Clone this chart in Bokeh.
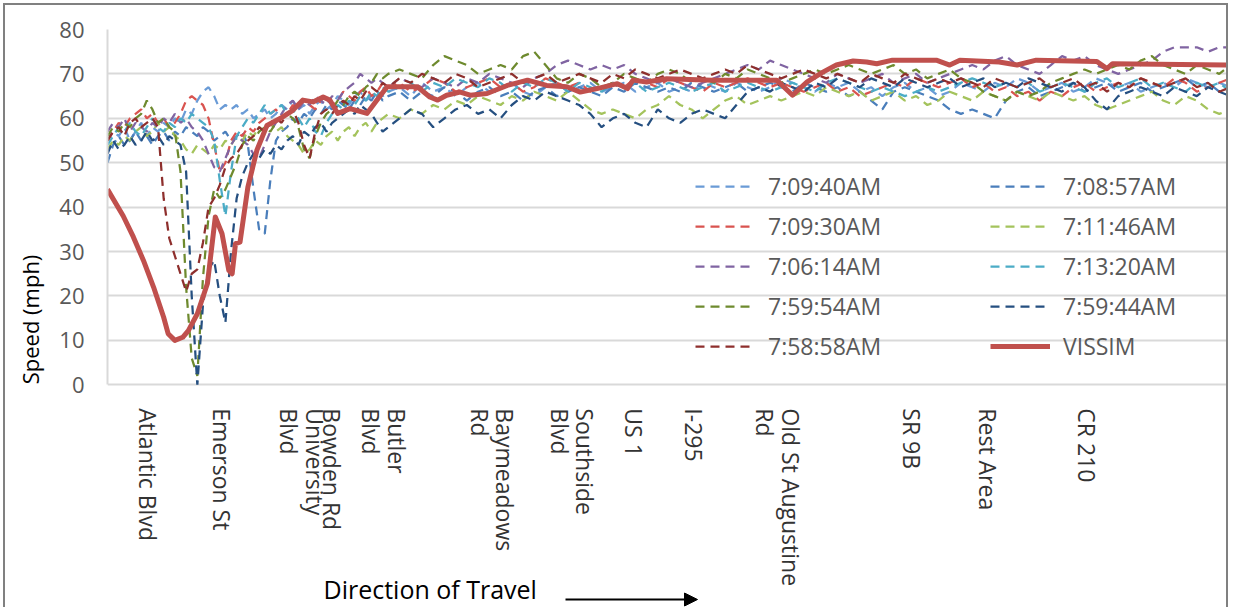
import math
from bokeh.plotting import figure
from bokeh.models import (Range1d, FixedTicker, Legend, LegendItem, Label, Arrow, NormalHead)
from bokeh.core.properties import value
from bokeh.embed import file_html
from bokeh.resources import INLINE

FONT = "Open Sans"

# ---------------- data ----------------
# relative position along the corridor (0 = start of plotted section, 100 = end)
pos = [0, 0.5, 1, 1.5, 2, 2.5, 3, 3.5, 4, 4.5,
       5, 5.5, 6, 6.5, 7, 7.5, 8, 8.5, 9, 9.5,
       10, 10.5, 11, 11.5, 12, 12.5, 13, 13.5, 14, 14.5,
       15, 15.5, 16, 16.5, 17, 17.5, 18, 18.5, 19, 19.5,
       20, 20.5, 21, 21.5, 22, 22.5, 23, 23.5, 24, 24.5,
       25, 26, 27, 28, 29, 30, 31, 32, 33, 34,
       35, 36, 37, 38, 39, 40, 41, 42, 43, 44,
       45, 46, 47, 48, 49, 50, 51, 52, 53, 54,
       55, 56, 57, 58, 59, 60, 61, 62, 63, 64,
       65, 66, 67, 68, 69, 70, 71, 72, 73, 74,
       75, 76, 77, 78, 79, 80, 81, 82, 83, 84,
       85, 86, 87, 88, 89, 90, 91, 92, 93, 94,
       95, 96, 97, 98, 99, 100]

s_0940 = [55, 57, 56, 58, 55, 57, 59, 56, 58, 57,
          59, 58, 60, 59, 62, 61, 64, 66, 67, 65,
          62, 63, 62, 63, 61, 62, 60, 61, 62, 60,
          61, 63, 62, 64, 62, 63, 61, 63, 64, 62,
          63, 65, 64, 63, 65, 66, 64, 65, 66, 65,
          66, 67, 65, 68, 66, 67, 65, 67, 68, 66,
          67, 68, 66, 65, 67, 68, 66, 67, 68, 66,
          67, 68, 66, 67, 68, 66, 67, 66, 68, 67,
          66, 68, 67, 66, 67, 69, 68, 67, 66, 68,
          67, 68, 66, 67, 65, 67, 68, 66, 67, 65,
          66, 68, 67, 66, 68, 67, 69, 68, 66, 67,
          68, 66, 67, 69, 68, 67, 68, 66, 67, 68,
          67, 69, 68, 67, 68, 67]

s_0857 = [50, 54, 56, 54, 55, 57, 55, 56, 54, 56,
          57, 55, 57, 56, 58, 57, 56, 58, 57, 55,
          56, 57, 55, 56, 57, 54, 44, 35, 34, 46,
          55, 57, 58, 60, 59, 61, 60, 62, 61, 63,
          62, 64, 63, 62, 64, 63, 65, 64, 66, 64,
          65, 66, 64, 66, 65, 67, 66, 64, 66, 67,
          65, 66, 64, 66, 67, 65, 66, 67, 66, 65,
          67, 66, 68, 67, 66, 67, 66, 68, 67, 66,
          67, 68, 66, 67, 68, 67, 66, 68, 67, 66,
          67, 65, 66, 64, 62, 66, 67, 66, 65, 64,
          62, 61, 62, 61, 60, 64, 66, 67, 65, 66,
          67, 68, 66, 67, 68, 66, 67, 68, 66, 67,
          68, 69, 67, 68, 66, 67]

s_0930 = [55, 57, 59, 58, 60, 61, 62, 60, 61, 59,
          60, 58, 59, 61, 64, 65, 64, 63, 60, 54,
          48, 50, 55, 57, 56, 58, 57, 59, 60, 61,
          62, 60, 61, 63, 62, 64, 63, 62, 64, 65,
          63, 64, 66, 65, 64, 66, 67, 65, 66, 68,
          67, 68, 66, 67, 69, 68, 66, 67, 68, 69,
          67, 68, 66, 67, 69, 68, 67, 68, 66, 67,
          68, 67, 69, 68, 67, 69, 68, 67, 66, 68,
          67, 68, 69, 68, 67, 68, 67, 66, 67, 68,
          66, 67, 65, 66, 67, 68, 67, 69, 68, 67,
          68, 69, 67, 68, 66, 67, 65, 66, 64, 66,
          65, 67, 68, 66, 67, 68, 67, 69, 68, 67,
          69, 68, 66, 67, 68, 69]

s_1146 = [53, 55, 54, 56, 55, 57, 58, 56, 57, 59,
          57, 58, 56, 55, 53, 52, 54, 53, 52, 54,
          53, 55, 54, 56, 55, 57, 56, 58, 57, 59,
          57, 58, 56, 55, 54, 52, 53, 55, 54, 56,
          57, 55, 57, 58, 56, 58, 59, 57, 59, 60,
          61, 60, 62, 61, 63, 62, 64, 63, 65, 64,
          63, 65, 64, 66, 65, 64, 66, 64, 62, 61,
          62, 61, 60, 62, 63, 65, 63, 62, 60, 62,
          64, 65, 63, 64, 65, 64, 65, 66, 65, 67,
          66, 65, 66, 64, 65, 66, 64, 65, 63, 64,
          66, 65, 64, 66, 65, 64, 66, 65, 64, 66,
          65, 64, 65, 63, 62, 63, 64, 65, 66, 64,
          63, 65, 64, 62, 61, 62]

s_0614 = [57, 59, 58, 60, 57, 59, 58, 57, 59, 58,
          60, 59, 61, 59, 60, 58, 57, 55, 52, 49,
          48, 51, 54, 56, 55, 54, 52, 51, 54, 57,
          59, 61, 63, 64, 62, 64, 63, 65, 64, 63,
          65, 64, 66, 67, 68, 70, 69, 68, 69, 68,
          67, 69, 68, 67, 69, 68, 67, 69, 68, 70,
          69, 68, 67, 69, 70, 72, 73, 72, 71, 72,
          71, 72, 70, 69, 68, 69, 68, 67, 68, 69,
          70, 71, 72, 71, 73, 72, 71, 70, 69, 68,
          70, 69, 68, 69, 70, 68, 69, 70, 68, 69,
          70, 71, 72, 71, 73, 74, 72, 71, 70, 72,
          74, 73, 74, 72, 71, 70, 71, 72, 73, 75,
          76, 76, 76, 75, 76, 76]

s_1320 = [54, 56, 58, 57, 59, 57, 56, 58, 60, 58,
          57, 59, 58, 60, 59, 61, 60, 59, 58, 55,
          46, 38, 48, 56, 58, 60, 59, 61, 63, 61,
          62, 63, 61, 62, 60, 58, 60, 57, 56, 59,
          61, 63, 62, 64, 63, 65, 64, 66, 65, 67,
          66, 67, 68, 66, 68, 67, 69, 68, 67, 69,
          68, 66, 68, 67, 69, 68, 66, 68, 67, 66,
          68, 67, 68, 66, 67, 68, 67, 66, 67, 68,
          66, 67, 68, 67, 66, 67, 68, 67, 66, 68,
          69, 68, 67, 66, 67, 66, 65, 66, 67, 66,
          67, 68, 69, 68, 67, 68, 67, 68, 66, 67,
          68, 67, 66, 68, 69, 67, 68, 69, 67, 68,
          67, 66, 68, 67, 68, 66]

s_5954 = [56, 58, 57, 59, 58, 60, 61, 64, 62, 59,
          60, 58, 57, 48, 22, 6, 2, 24, 38, 44,
          42, 44, 47, 50, 54, 56, 55, 57, 58, 57,
          59, 60, 61, 60, 58, 53, 51, 56, 59, 61,
          62, 64, 63, 65, 66, 65, 67, 68, 70, 69,
          70, 71, 70, 69, 72, 74, 73, 72, 70, 71,
          72, 71, 74, 75, 72, 69, 68, 70, 69, 67,
          68, 70, 69, 68, 70, 71, 70, 68, 69, 68,
          70, 69, 71, 70, 69, 68, 69, 70, 71, 70,
          71, 72, 71, 70, 71, 72, 70, 71, 69, 70,
          71, 69, 68, 66, 65, 64, 66, 65, 66, 68,
          69, 70, 71, 70, 71, 72, 71, 73, 74, 72,
          71, 70, 72, 71, 70, 72]

s_5944 = [52, 55, 53, 54, 56, 54, 55, 57, 55, 56,
          54, 56, 55, 54, 48, 20, 0, 18, 26, 28,
          20, 14, 30, 42, 47, 50, 52, 51, 53, 52,
          54, 53, 55, 56, 54, 57, 56, 58, 59, 57,
          59, 60, 61, 62, 61, 63, 62, 61, 59, 57,
          58, 60, 62, 61, 58, 60, 62, 63, 61, 62,
          60, 63, 65, 64, 66, 65, 64, 63, 61, 58,
          60, 61, 59, 58, 62, 60, 59, 61, 62, 61,
          60, 63, 66, 67, 66, 68, 67, 66, 68, 67,
          69, 68, 67, 69, 68, 67, 69, 68, 67, 68,
          69, 67, 68, 69, 67, 68, 67, 69, 68, 67,
          66, 68, 67, 64, 62, 65, 66, 67, 66, 65,
          67, 66, 65, 67, 66, 65]

s_5858 = [55, 57, 58, 56, 59, 60, 58, 59, 60, 58,
          42, 33, 29, 25, 21, 25, 26, 32, 40, 42,
          45, 49, 51, 52, 54, 55, 56, 58, 57, 59,
          60, 59, 61, 62, 59, 54, 51, 57, 61, 62,
          61, 63, 64, 63, 65, 64, 66, 67, 66, 68,
          67, 69, 68, 70, 69, 68, 70, 69, 67, 68,
          69, 70, 68, 69, 70, 68, 69, 70, 69, 68,
          70, 69, 71, 70, 69, 70, 71, 70, 69, 70,
          71, 70, 72, 71, 70, 69, 70, 71, 70, 69,
          70, 69, 68, 70, 69, 68, 70, 69, 68, 69,
          68, 69, 68, 67, 69, 68, 67, 68, 69, 67,
          68, 69, 67, 68, 66, 68, 67, 69, 68, 67,
          68, 69, 67, 68, 66, 67]

vissim_pos = [0, 1.4, 2.3, 3.2, 4.1, 5.0, 5.4, 6.0, 6.7, 7.2,
              8.0, 8.9, 9.6, 10.2, 10.8, 11.1, 11.4, 11.8, 12.5, 13.3,
              14.2, 15.4, 16.5, 17.4, 18.3, 19.2, 19.8, 20.5, 21.6, 23.1,
              24.0, 24.9, 27.6, 28.7, 29.4, 30.2, 31.4, 32.3, 33.8, 35.6,
              37.4, 39.1, 40.9, 42.1, 43.6, 45.4, 46.3, 46.8, 48.0, 49.8,
              53.9, 59.6, 61.0, 62.3, 63.7, 64.9, 66.4, 67.6, 68.5, 69.9,
              73.8, 75.0, 75.9, 79.4, 81.0, 82.7, 88.1, 89.0, 89.5, 100]
vissim_speed = [44, 38, 33.3, 28, 22, 15.2, 11.5, 10, 10.7, 12.2,
                16, 22.8, 37.8, 34, 25.8, 25, 31.8, 32.1, 44.5, 52.8,
                58.4, 60, 61.8, 64.1, 63.7, 64.8, 64.1, 61.1, 62.2, 61.1,
                64.1, 67.1, 67.1, 64.8, 64.1, 65.2, 65.9, 65.2, 65.6, 67.4,
                68.6, 67.4, 67.1, 65.9, 66.7, 67.8, 66.7, 68.6, 68.2, 68.9,
                68.6, 68.6, 65.2, 68.2, 70.4, 72.0, 72.9, 72.7, 72.3, 73.1,
                73.1, 72.0, 73.1, 72.7, 72.0, 73.1, 72.8, 71.2, 72.3, 72.0]

series_names = ["7:09:40AM", "7:08:57AM", "7:09:30AM", "7:11:46AM", "7:06:14AM",
                "7:13:20AM", "7:59:54AM", "7:59:44AM", "7:58:58AM"]
series_values = [s_0940, s_0857, s_0930, s_1146, s_0614, s_1320, s_5954, s_5944, s_5858]
series_colors = ["#6a9bd6", "#4a7ebb", "#d9534f", "#a4c35c", "#8064a2",
                 "#4bacc6", "#6e8a2e", "#254f80", "#8e2f2d"]
vissim_name = "VISSIM"
vissim_color = "#c0504d"

# cross streets / landmarks along the corridor
label_pos = [3.65, 10.2, 17.3, 20.0, 24.6, 34.3, 41.4, 46.9, 52.2, 59.7, 71.6, 78.4, 87.2]
label_names = ["Atlantic Blvd", "Emerson St", "University\nBlvd", "Bowden Rd", "Butler\nBlvd",
               "Baymeadows\nRd", "Southside\nBlvd", "US 1", "I-295", "Old St Augustine\nRd",
               "SR 9B", "Rest Area", "CR 210"]
y_ticks = [0, 10, 20, 30, 40, 50, 60, 70, 80]

for s in series_values:
    assert len(s) == len(pos), len(s)
assert len(vissim_pos) == len(vissim_speed)

# ---------------- figure ----------------
# The plotting frame reaches down to the bottom of the picture so that the
# street names and the travel-direction note sit inside it (below speed 0).
p = figure(width=1225, height=604, output_backend="svg", toolbar_location=None,
           x_range=Range1d(0, 100), y_range=Range1d(-50.6, 80),
           x_axis_location=None,
           min_border_left=102, min_border_right=0, min_border_top=24, min_border_bottom=0,
           background_fill_color="white", border_fill_color="white", outline_line_color=None)
p.styles = {"border-top": "2px solid #808080", "border-left": "2px solid #808080",
            "border-right": "2px solid #808080", "margin-top": "3px", "margin-left": "3px"}

p.xgrid.grid_line_color = None
p.ygrid.grid_line_color = "#d9d9d9"
p.ygrid.grid_line_width = 2

p.yaxis.ticker = FixedTicker(ticks=y_ticks)
p.yaxis.bounds = (0, 80)
p.yaxis.major_label_text_font = FONT
p.yaxis.major_label_text_font_size = "22px"
p.yaxis.major_label_text_color = "#595959"
p.yaxis.major_tick_line_color = None
p.yaxis.minor_tick_line_color = None
p.yaxis.major_tick_out = 0
p.yaxis.axis_line_color = "#d9d9d9"
p.yaxis.axis_line_width = 2
p.yaxis.major_label_standoff = 23
p.yaxis.axis_label = "Speed (mph)"
p.yaxis.axis_label_text_font = FONT
p.yaxis.axis_label_text_font_size = "22px"
p.yaxis.axis_label_text_font_style = "normal"
p.yaxis.axis_label_text_color = "#000000"
p.yaxis.axis_label_standoff = 11

renderers = []
for name, vals, col in zip(series_names, series_values, series_colors):
    r = p.line(pos, vals, line_color=col, line_width=2.25, line_dash="9 6")
    renderers.append(r)
r_vissim = p.line(vissim_pos, vissim_speed, line_color=vissim_color, line_width=5,
                  line_join="round")

# street names, rotated, hanging below the speed axis
LABEL_TOP = -5.3
p.text(x=label_pos, y=[LABEL_TOP] * len(label_pos), text=label_names,
       angle=-math.pi / 2, text_align="left", text_baseline="middle",
       text_font=value(FONT), text_font_size="23px", text_color="#333333",
       text_line_height=0.8)

items1 = [LegendItem(label=series_names[i], renderers=[renderers[i]]) for i in (0, 2, 4, 6, 8)]
items2 = [LegendItem(label=series_names[i], renderers=[renderers[i]]) for i in (1, 3, 5, 7)]
items2.append(LegendItem(label=vissim_name, renderers=[r_vissim]))

for items, x0 in ((items1, 588), (items2, 883)):
    lg = Legend(items=items, location=(x0, 247), orientation="vertical",
                padding=0, margin=0, spacing=8, glyph_width=60, glyph_height=22,
                label_height=22, label_standoff=13,
                label_text_font=FONT, label_text_font_size="23px",
                label_text_color="#595959", border_line_color=None,
                background_fill_alpha=0)
    p.add_layout(lg)

p.add_layout(Label(x=216, y=21, x_units="screen", y_units="screen",
                   text="Direction of Travel", text_font=FONT, text_font_size="25px",
                   text_color="#000000", text_baseline="middle"))
p.add_layout(Arrow(end=NormalHead(size=13, fill_color="black", line_color="black"),
                   x_start=458, y_start=10, x_end=590, y_end=10,
                   start_units="screen", end_units="screen",
                   line_width=2, line_color="black"))

open("out.html", "w").write(file_html(p, INLINE))
